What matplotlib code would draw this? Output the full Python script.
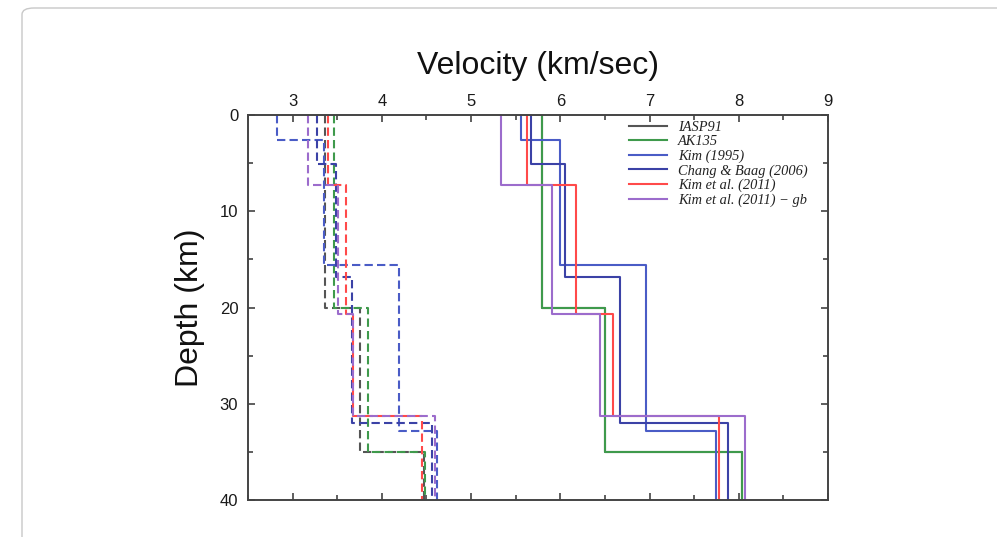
import numpy as np
import matplotlib
matplotlib.use('Agg')
import matplotlib.pyplot as plt
from matplotlib.patches import FancyBboxPatch
from matplotlib.ticker import MultipleLocator

# layer boundaries (km) and P / S velocities (km/s) for each crustal model
MODELS = ["IASP91", "AK135", "Kim (1995)", "Chang & Baag (2006)",
          "Kim et al. (2011)", "Kim et al. (2011) \u2212 gb"]
COLORS = ["#555555", "#3f9a4c", "#4a5cc6", "#3b42a6", "#ff4a4a", "#9c6ccc"]

iasp_depth = [0, 20, 35, 40]
iasp_vp = [5.80, 6.50, 8.04]
iasp_vs = [3.36, 3.75, 4.47]

ak135_depth = [0, 20, 35, 40]
ak135_vp = [5.80, 6.50, 8.04]
ak135_vs = [3.46, 3.85, 4.48]

kim95_depth = [0, 2.6, 15.6, 32.8, 40]
kim95_vp = [5.56, 6.00, 6.96, 7.75]
kim95_vs = [2.82, 3.35, 4.19, 4.62]

cb06_depth = [0, 5.1, 16.8, 32.0, 40]
cb06_vp = [5.67, 6.05, 6.67, 7.88]
cb06_vs = [3.27, 3.49, 3.67, 4.56]

kim11_depth = [0, 7.3, 20.7, 31.3, 40]
kim11_vp = [5.63, 6.18, 6.59, 7.78]
kim11_vs = [3.40, 3.60, 3.68, 4.45]

kim11gb_depth = [0, 7.3, 20.7, 31.3, 40]
kim11gb_vp = [5.34, 5.91, 6.44, 8.07]
kim11gb_vs = [3.17, 3.51, 3.68, 4.60]

depths = [iasp_depth, ak135_depth, kim95_depth, cb06_depth, kim11_depth, kim11gb_depth]
vps = [iasp_vp, ak135_vp, kim95_vp, cb06_vp, kim11_vp, kim11gb_vp]
vss = [iasp_vs, ak135_vs, kim95_vs, cb06_vs, kim11_vs, kim11gb_vs]

x_ticks = [3, 4, 5, 6, 7, 8, 9]
y_ticks = [0, 10, 20, 30, 40]

tick_font = ['Liberation Sans Narrow', 'Liberation Sans', 'DejaVu Sans']


def profile(edges, values):
    # turn layer values into a stepped depth profile
    edges = np.asarray(edges, dtype=float)
    values = np.asarray(values, dtype=float)
    return np.repeat(values, 2), np.repeat(edges, 2)[1:-1]


fig = plt.figure(figsize=(9.97, 5.37), dpi=100)

card = FancyBboxPatch((22 / 997, -20 / 537), 1.0, 1 - 8 / 537 + 20 / 537,
                      boxstyle="round,pad=0,rounding_size=0.012",
                      transform=fig.transFigure, facecolor='white',
                      edgecolor='#c8c8c8', linewidth=1.0, zorder=-10)
fig.patches.append(card)

ax = fig.add_axes([248 / 997, 1 - 500 / 537, 580 / 997, 385 / 537])

for name, color, d, vp, vs in zip(MODELS, COLORS, depths, vps, vss):
    x, y = profile(d, vp)
    ax.plot(x, y, color=color, lw=1.5, label=name)
    x, y = profile(d, vs)
    ax.plot(x, y, color=color, lw=1.5, linestyle=(0, (4, 2)))

ax.set_xlim(2.5, 9)
ax.set_ylim(40, 0)
ax.xaxis.set_major_locator(MultipleLocator(1))
ax.xaxis.set_minor_locator(MultipleLocator(0.5))
ax.yaxis.set_major_locator(MultipleLocator(10))
ax.yaxis.set_minor_locator(MultipleLocator(5))
ax.set_xticks(x_ticks)
ax.set_yticks(y_ticks)
ax.xaxis.tick_top()
ax.tick_params(which='both', direction='in', top=True, bottom=True,
               left=True, right=True, color='#333333', width=1.1)
ax.tick_params(which='major', length=5)
ax.tick_params(which='minor', length=3.5)
ax.tick_params(axis='x', pad=4, labelsize=12, labelcolor='#1a1a1a')
ax.tick_params(axis='y', pad=7, labelsize=12, labelcolor='#1a1a1a')
for lab in ax.get_xticklabels() + ax.get_yticklabels():
    lab.set_family(tick_font)
for sp in ax.spines.values():
    sp.set_color('#444444')
    sp.set_linewidth(1.4)

fig.text(538 / 997, 1 - 66 / 537, "Velocity (km/sec)", ha='center', va='center',
         fontsize=23, family=['Liberation Sans', 'DejaVu Sans'], color='#111111')
fig.text(190 / 997, 1 - 308 / 537, "Depth (km)", ha='center', va='center',
         rotation=90, fontsize=23, family=['Liberation Sans', 'DejaVu Sans'],
         color='#111111')

leg = ax.legend(loc='upper left', bbox_to_anchor=((629 - 248) / 580, 1 - 6 / 385),
                frameon=False, borderpad=0, borderaxespad=0, handlelength=2.6,
                handletextpad=0.8, labelspacing=0.08,
                prop={'family': ['Liberation Serif', 'DejaVu Serif'],
                      'style': 'italic', 'size': 10.4})
for t in leg.get_texts():
    t.set_color('#222222')

fig.savefig('out.png', dpi=100)
